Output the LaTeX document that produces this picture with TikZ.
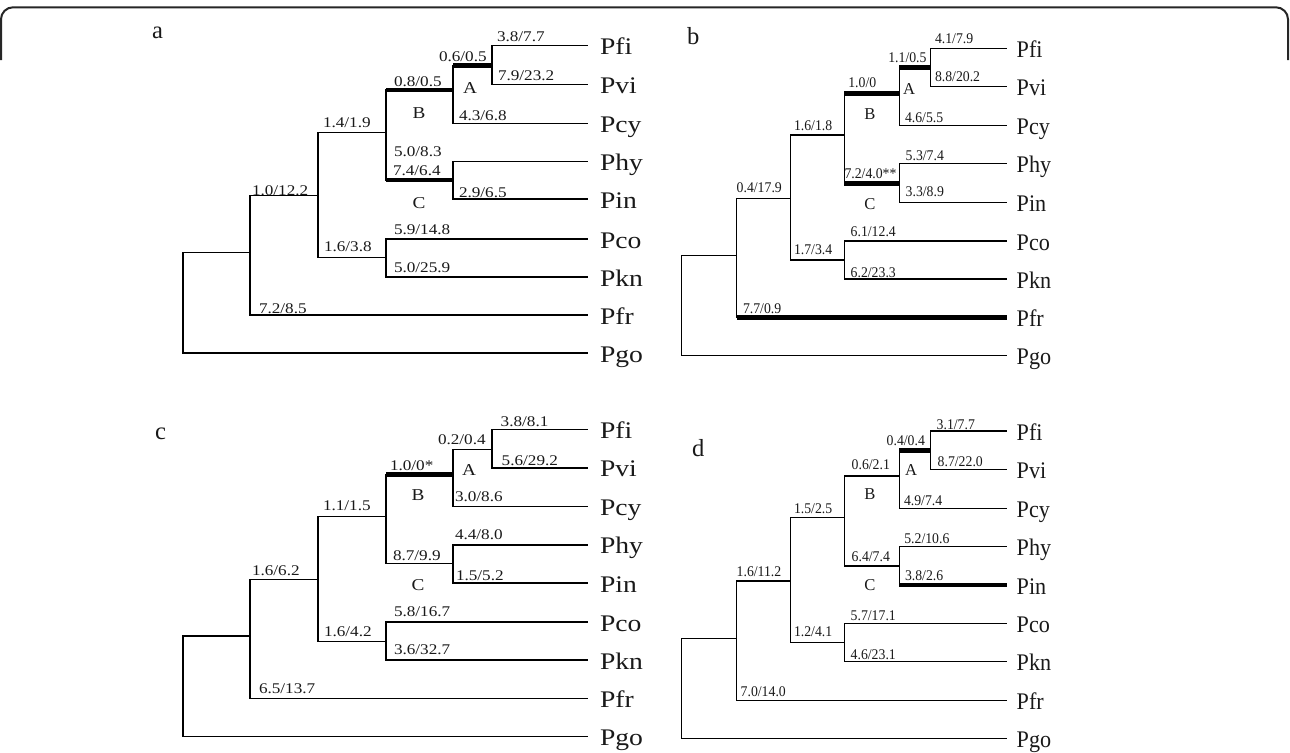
\documentclass[tikz,border=0pt]{standalone}
\usepackage{fontspec}
\setmainfont{Liberation Serif}
\newfontfamily\wideserif[FakeStretch=1.16]{Liberation Serif}
\newfontfamily\narrowserif[FakeStretch=0.93]{Liberation Serif}

% vertical bar of internal node #1 between its children #2 and #3
\newcommand\forkat[3]{\draw[br] (#2 -| #1) -- (#3 -| #1);}
% horizontal branch from parent #2 to child #3
\newcommand\twig[3][br]{\draw[#1] (#2 |- #3) -- (#3);}
% the whole nine-taxon topology, prefix #1
\newcommand\phylo[1]{%
  \forkat{#1R}{#1N1}{#1Pgo}
  \forkat{#1N1}{#1N2}{#1Pfr}
  \forkat{#1N2}{#1N3}{#1N4}
  \forkat{#1N3}{#1NB}{#1NC}
  \forkat{#1N4}{#1Pco}{#1Pkn}
  \forkat{#1NB}{#1NA}{#1Pcy}
  \forkat{#1NC}{#1Phy}{#1Pin}
  \forkat{#1NA}{#1Pfi}{#1Pvi}
  \twig{#1R}{#1N1}   \twig{#1R}{#1Pgo}
  \twig{#1N1}{#1N2}  \twig{#1N1}{#1Pfr}
  \twig{#1N2}{#1N3}  \twig{#1N2}{#1N4}
  \twig{#1N3}{#1NB}  \twig{#1N3}{#1NC}
  \twig{#1N4}{#1Pco} \twig{#1N4}{#1Pkn}
  \twig{#1NB}{#1NA}  \twig{#1NB}{#1Pcy}
  \twig{#1NC}{#1Phy} \twig{#1NC}{#1Pin}
  \twig{#1NA}{#1Pfi} \twig{#1NA}{#1Pvi}
}

\tikzset{
  br/.style={line width=0.75pt, line cap=rect, draw=black},
  hot/.style={line width=2.3pt, draw=black},
  frame/.style={line width=1pt, draw=black!85},
  txt/.style={inner sep=0pt, outer sep=0pt, anchor=base west, text=black!90},
  taxA/.style={txt, font=\wideserif\fontsize{11.9}{12}\selectfont},
  taxB/.style={txt, font=\narrowserif\fontsize{11.9}{12}\selectfont},
  lblA/.style={txt, font=\wideserif\fontsize{7.4}{8}\selectfont},
  lblB/.style={txt, font=\narrowserif\fontsize{7.4}{8}\selectfont},
  cladeA/.style={txt, anchor=base, font=\wideserif\fontsize{8.3}{9}\selectfont},
  cladeB/.style={txt, anchor=base, font=\fontsize{8.3}{9}\selectfont},
  panel/.style={txt, font=\fontsize{12.3}{13}\selectfont},
}

\begin{document}
\begin{tikzpicture}[x=0.5pt, y=-0.5pt]
\useasboundingbox (0,0) rectangle (1290,752);

% outer frame (top edge with rounded corners)
\draw[frame, rounded corners=6] (1,60) -- (1,7.3) -- (1288,7.3) -- (1288,60);

% ---------------- panel a ----------------
\coordinate (aR)  at (183,300);
\coordinate (aN1) at (250,252.3);
\coordinate (aN2) at (318,195.7);
\coordinate (aN3) at (386,132.7);
\coordinate (aN4) at (386,257.7);
\coordinate (aNB) at (453,90);
\coordinate (aNC) at (453,180);
\coordinate (aNA) at (492,65.7);
\coordinate (aPfi) at (587,45.7);
\coordinate (aPvi) at (587,84.3);
\coordinate (aPcy) at (587,123.3);
\coordinate (aPhy) at (587,161.7);
\coordinate (aPin) at (587,199);
\coordinate (aPco) at (587,239);
\coordinate (aPkn) at (587,277);
\coordinate (aPfr) at (587,315);
\coordinate (aPgo) at (587,353);
\phylo{a}
\twig[hot]{aNB}{aNA}
\twig[hot]{aN3}{aNB}
\twig[hot]{aN3}{aNC}

\node[panel] (aLetter) at (152,38) {a};
\foreach \t/\y in {Pfi/45.7,Pvi/84.3,Pcy/123.3,Phy/161.7,Pin/199,Pco/239,Pkn/277,Pfr/315,Pgo/353}
  \node[taxA] (a\t L) at (600,\y+9) {\t};
\node[lblA] (aL1)  at (497,41.7)  {3.8/7.7};
\node[lblA] (aL2)  at (498,80.7)  {7.9/23.2};
\node[lblA] (aL3)  at (439,61.7)  {0.6/0.5};
\node[lblA] (aL4)  at (394,86)    {0.8/0.5};
\node[lblA] (aL5)  at (459,120.7) {4.3/6.8};
\node[lblA] (aL6)  at (323,127.3) {1.4/1.9};
\node[lblA] (aL7)  at (394,156.7) {5.0/8.3};
\node[lblA] (aL8)  at (393,175)   {7.4/6.4};
\node[lblA] (aL9)  at (252,195)   {1.0/12.2};
\node[lblA] (aL10) at (459,197)   {2.9/6.5};
\node[lblA] (aL11) at (394,234)   {5.9/14.8};
\node[lblA] (aL12) at (324,251.7) {1.6/3.8};
\node[lblA] (aL13) at (394,272.3) {5.0/25.9};
\node[lblA] (aL14) at (259,313.3) {7.2/8.5};
\node[cladeA] (aA) at (470,93)  {A};
\node[cladeA] (aB) at (419,118) {B};
\node[cladeA] (aC) at (419,208) {C};

% ---------------- panel b ----------------
\coordinate (bR)  at (681.7,300);
\coordinate (bN1) at (736.7,255.7);
\coordinate (bN2) at (790.7,198.3);
\coordinate (bN3) at (844.3,135);
\coordinate (bN4) at (844.3,260);
\coordinate (bNB) at (899.3,93.3);
\coordinate (bNC) at (899.3,183.3);
\coordinate (bNA) at (930.7,67.7);
\coordinate (bPfi) at (1006.7,48.3);
\coordinate (bPvi) at (1006.7,86.7);
\coordinate (bPcy) at (1006.7,125.7);
\coordinate (bPhy) at (1006.7,163.3);
\coordinate (bPin) at (1006.7,202.3);
\coordinate (bPco) at (1006.7,241);
\coordinate (bPkn) at (1006.7,279);
\coordinate (bPfr) at (1006.7,317.7);
\coordinate (bPgo) at (1006.7,355.7);
\phylo{b}
\twig[hot]{bNB}{bNA}
\twig[hot]{bN3}{bNB}
\twig[hot]{bN3}{bNC}
\twig[hot]{bN1}{bPfr}

\node[panel] (bLetter) at (687,44) {b};
\foreach \t/\y in {Pfi/48.3,Pvi/86.7,Pcy/125.7,Phy/163.3,Pin/202.3,Pco/241,Pkn/279,Pfr/317.7,Pgo/355.7}
  \node[taxB] (b\t L) at (1016.7,\y+9) {\t};
\node[lblB] (bL1)  at (935,43.3)   {4.1/7.9};
\node[lblB] (bL2)  at (888.3,62.7) {1.1/0.5};
\node[lblB] (bL3)  at (935,81.7)   {8.8/20.2};
\node[lblB] (bL4)  at (848.3,87.7) {1.0/0};
\node[lblB] (bL5)  at (905,122)    {4.6/5.5};
\node[lblB] (bL6)  at (794,130)    {1.6/1.8};
\node[lblB] (bL7)  at (905.7,160)  {5.3/7.4};
\node[lblB] (bL8)  at (844.5,178.3){7.2/4.0**};
\node[lblB] (bL9)  at (736.7,192.7){0.4/17.9};
\node[lblB] (bL10) at (905.7,196.7){3.3/8.9};
\node[lblB] (bL11) at (850.7,236)  {6.1/12.4};
\node[lblB] (bL12) at (794,254)    {1.7/3.4};
\node[lblB] (bL13) at (850.7,277.7){6.2/23.3};
\node[lblB] (bL14) at (743,313.3)  {7.7/0.9};
\node[cladeB] (bA) at (909,94)  {A};
\node[cladeB] (bB) at (870,119) {B};
\node[cladeB] (bC) at (870,209) {C};

% ---------------- panel c ----------------
\coordinate (cR)  at (183,680);
\coordinate (cN1) at (250,636);
\coordinate (cN2) at (318,579.3);
\coordinate (cN3) at (386,516.3);
\coordinate (cN4) at (386,641.3);
\coordinate (cNB) at (453,474.5);
\coordinate (cNC) at (453,563.6);
\coordinate (cNA) at (492,449.3);
\coordinate (cPfi) at (587,429.3);
\coordinate (cPvi) at (587,467.8);
\coordinate (cPcy) at (587,506.3);
\coordinate (cPhy) at (587,544.8);
\coordinate (cPin) at (587,583);
\coordinate (cPco) at (587,622);
\coordinate (cPkn) at (587,660);
\coordinate (cPfr) at (587,698.4);
\coordinate (cPgo) at (587,736.7);
\phylo{c}
\twig[hot]{cN3}{cNB}

\node[panel] (cLetter) at (155,439) {c};
\foreach \t/\y in {Pfi/429.3,Pvi/467.8,Pcy/506.3,Phy/544.8,Pin/583,Pco/622,Pkn/660,Pfr/698.4,Pgo/736.7}
  \node[taxA] (c\t L) at (600,\y+9) {\t};
\node[lblA] (cL1)  at (500.7,426.7) {3.8/8.1};
\node[lblA] (cL2)  at (438,444)     {0.2/0.4};
\node[lblA] (cL3)  at (501.7,465.7) {5.6/29.2};
\node[lblA] (cL4)  at (390,470)     {1.0/0*};
\node[lblA] (cL5)  at (455,501.7)   {3.0/8.6};
\node[lblA] (cL6)  at (323,510)     {1.1/1.5};
\node[lblA] (cL7)  at (455,539.3)   {4.4/8.0};
\node[lblA] (cL8)  at (393,560)     {8.7/9.9};
\node[lblA] (cL9)  at (252,575)     {1.6/6.2};
\node[lblA] (cL10) at (456,580)     {1.5/5.2};
\node[lblA] (cL11) at (394,616.7)   {5.8/16.7};
\node[lblA] (cL12) at (324,636.7)   {1.6/4.2};
\node[lblA] (cL13) at (394,654.3)   {3.6/32.7};
\node[lblA] (cL14) at (259,693.3)   {6.5/13.7};
\node[cladeA] (cA) at (469,475) {A};
\node[cladeA] (cB) at (418,500) {B};
\node[cladeA] (cC) at (418,590) {C};

% ---------------- panel d ----------------
\coordinate (dR)  at (681.7,680);
\coordinate (dN1) at (736.7,638.4);
\coordinate (dN2) at (790.7,581);
\coordinate (dN3) at (844.3,517.7);
\coordinate (dN4) at (844.3,642.7);
\coordinate (dNB) at (899.3,476);
\coordinate (dNC) at (899.3,566);
\coordinate (dNA) at (930.7,450.4);
\coordinate (dPfi) at (1006.7,431);
\coordinate (dPvi) at (1006.7,469.4);
\coordinate (dPcy) at (1006.7,508.4);
\coordinate (dPhy) at (1006.7,546.5);
\coordinate (dPin) at (1006.7,585);
\coordinate (dPco) at (1006.7,623.7);
\coordinate (dPkn) at (1006.7,661.7);
\coordinate (dPfr) at (1006.7,700.4);
\coordinate (dPgo) at (1006.7,738.4);
\phylo{d}
\twig[hot]{dNB}{dNA}
\twig[hot]{dNC}{dPin}

\node[panel] (dLetter) at (692,456) {d};
\foreach \t/\y in {Pfi/431,Pvi/469.4,Pcy/508.4,Phy/546.5,Pin/585,Pco/623.7,Pkn/661.7,Pfr/700.4,Pgo/738.4}
  \node[taxB] (d\t L) at (1016.7,\y+9) {\t};
\node[lblB] (dL1)  at (936.7,429.3) {3.1/7.7};
\node[lblB] (dL2)  at (886.7,445)   {0.4/0.4};
\node[lblB] (dL3)  at (937.7,466.7) {8.7/22.0};
\node[lblB] (dL4)  at (851.7,469.3) {0.6/2.1};
\node[lblB] (dL5)  at (904,505)     {4.9/7.4};
\node[lblB] (dL6)  at (794,513.3)   {1.5/2.5};
\node[lblB] (dL7)  at (904.3,543.3) {5.2/10.6};
\node[lblB] (dL8)  at (851.7,561.7) {6.4/7.4};
\node[lblB] (dL9)  at (736.7,576.7) {1.6/11.2};
\node[lblB] (dL10) at (905,580.7)   {3.8/2.6};
\node[lblB] (dL11) at (850.7,620)   {5.7/17.1};
\node[lblB] (dL12) at (794,636.7)   {1.2/4.1};
\node[lblB] (dL13) at (850.7,659.3) {4.6/23.1};
\node[lblB] (dL14) at (740.7,696.7) {7.0/14.0};
\node[cladeB] (dA) at (911,475) {A};
\node[cladeB] (dB) at (870,499) {B};
\node[cladeB] (dC) at (870,590) {C};
\end{tikzpicture}
\end{document}
